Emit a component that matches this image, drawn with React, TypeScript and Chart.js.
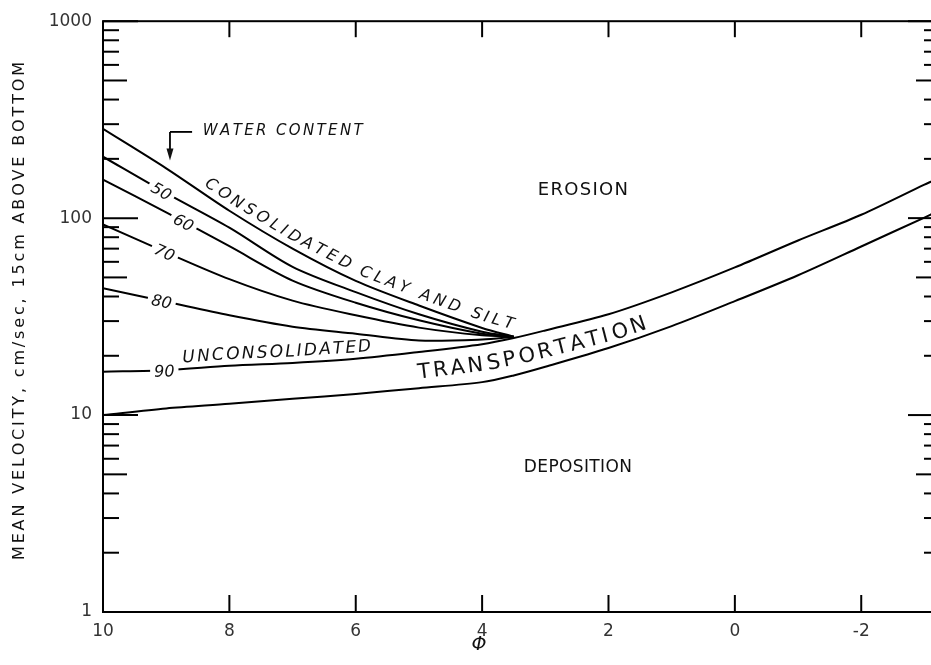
import React, { useEffect, useRef } from "react";
import { Chart, registerables } from "chart.js";

Chart.register(...registerables);

// ---- data (phi units, velocity cm/sec) ----
const PHI_CONSOL = [10, 9, 8, 7, 6, 5, 4, 3.5];
const V_TOP = [284, 179, 109, 70, 48, 36, 27.7, 25];
const V_WC50 = [205, 134, 89.5, 56.6, 42.1, 32.5, 26.5, 25];
const V_WC60 = [157, 107, 72, 48.2, 37.2, 30.3, 25.9, 25];
const V_WC70 = [93, 67, 49, 38.1, 32.1, 27.8, 25.4, 25];
const V_WC80 = [44, 37.6, 32.1, 28.1, 25.9, 23.9, 24.2, 25];

const PHI_TRANS = [10, 9, 8, 7, 6, 5, 4, 3.5, 3, 2, 1, 0, -1, -2, -3, -3.12];
const V_UPPER = [16.6, 16.9, 17.8, 18.4, 19.3, 20.9, 22.9, 24.6, 26.9, 32.5, 42, 56.2, 77, 104, 148, 154];
const V_LOWER = [10, 10.8, 11.4, 12.1, 12.8, 13.7, 14.7, 15.9, 17.6, 21.9, 28.3, 37.9, 51.3, 71.8, 100.7, 105];

const X_TICKS = [10, 8, 6, 4, 2, 0, -2];
const Y_MAJOR = [1, 10, 100, 1000];
const Y_MANTISSA = [2, 3, 4, 5, 6, 7, 8, 9];

const WC_LABELS = ["50", "60", "70", "80", "90"];
const WC_DATASET = [1, 2, 3, 4, 5];
const WC_LABEL_PHI = [9.07, 8.72, 9.02, 9.07, 9.03];

const TEXT = "#111";
const FAM = '"DejaVu Sans"';

type P = { x: number; y: number };
type Path = { pts: P[]; s: number[] };

function buildPath(pts: P[]): Path {
  const s = [0];
  for (let i = 1; i < pts.length; i++) {
    s.push(s[i - 1] + Math.hypot(pts[i].x - pts[i - 1].x, pts[i].y - pts[i - 1].y));
  }
  return { pts, s };
}

function at(path: Path, d: number) {
  const { pts, s } = path;
  let i = 0;
  while (i < pts.length - 2 && s[i + 1] < d) i++;
  const seg = s[i + 1] - s[i] || 1;
  const t = (d - s[i]) / seg;
  const a = pts[i], b = pts[i + 1];
  return { x: a.x + (b.x - a.x) * t, y: a.y + (b.y - a.y) * t, ang: Math.atan2(b.y - a.y, b.x - a.x) };
}

function sAtX(path: Path, x: number) {
  const { pts, s } = path;
  for (let i = 0; i < pts.length - 1; i++) {
    const a = pts[i], b = pts[i + 1];
    if ((x >= a.x && x <= b.x) || (x <= a.x && x >= b.x)) {
      const t = (x - a.x) / ((b.x - a.x) || 1);
      return s[i] + t * (s[i + 1] - s[i]);
    }
  }
  return x < pts[0].x ? 0 : s[s.length - 1];
}

function textAlong(ctx: CanvasRenderingContext2D, path: Path, text: string, s0: number, s1: number, offset: number, font: string) {
  ctx.font = font;
  const chars = [...text];
  const widths = chars.map((c) => ctx.measureText(c).width);
  const total = widths.reduce((a, b) => a + b, 0);
  const gap = chars.length > 1 ? (s1 - s0 - total) / (chars.length - 1) : 0;
  let d = s0;
  ctx.textAlign = "center";
  ctx.textBaseline = "middle";
  chars.forEach((c, i) => {
    const w = widths[i];
    const p = at(path, d + w / 2);
    ctx.save();
    ctx.translate(p.x, p.y);
    ctx.rotate(p.ang);
    ctx.fillText(c, 0, offset);
    ctx.restore();
    d += w + gap;
  });
}

function labelOnPath(ctx: CanvasRenderingContext2D, path: Path, text: string, xc: number, font: string, dy: number) {
  ctx.font = font;
  const w = ctx.measureText(text).width;
  const p = at(path, sAtX(path, xc));
  ctx.save();
  ctx.translate(p.x, p.y);
  ctx.rotate(p.ang);
  ctx.fillStyle = "#fff";
  ctx.fillRect(-w / 2 - 4, -5, w + 8, 10);
  ctx.fillStyle = TEXT;
  ctx.textAlign = "center";
  ctx.textBaseline = "middle";
  ctx.fillText(text, 0, dy);
  ctx.restore();
}

const overlay = {
  id: "overlay",
  afterDatasetsDraw(chart: any) {
    const ctx: CanvasRenderingContext2D = chart.ctx;
    const { left, right, top, bottom } = chart.chartArea;
    const xs = chart.scales.x;
    const ys = chart.scales.y;
    const X = (v: number) => xs.getPixelForValue(v);
    const Y = (v: number) => ys.getPixelForValue(v);
    ctx.save();
    ctx.strokeStyle = "#000";
    ctx.lineWidth = 2;
    ctx.strokeRect(left, top, right - left, bottom - top);
    const line = (x1: number, y1: number, x2: number, y2: number) => {
      ctx.beginPath();
      ctx.moveTo(x1, y1);
      ctx.lineTo(x2, y2);
      ctx.stroke();
    };
    for (const t of ys.ticks) {
      const v = t.value;
      const py = Y(v);
      const m = v / Math.pow(10, Math.floor(Math.log10(v) + 1e-9));
      const major = Math.abs(m - 1) < 1e-6;
      const five = Math.abs(m - 5) < 1e-6;
      line(left, py, left + (major ? 35 : five ? 24 : 16), py);
      line(right, py, right - (major ? 24 : five ? 16 : 8), py);
    }
    for (const v of X_TICKS) {
      const px = X(v);
      line(px, top, px, top + 16);
      line(px, bottom, px, bottom - 17);
    }

    const pathOf = (i: number) =>
      buildPath(chart.getDatasetMeta(i).data.map((p: any) => ({ x: p.x, y: p.y })));

    ctx.fillStyle = TEXT;
    // water-content numbers on the curves
    WC_LABELS.forEach((lab, k) => {
      labelOnPath(ctx, pathOf(WC_DATASET[k]), lab, X(WC_LABEL_PHI[k]), `italic 16px ${FAM}`, 2);
    });

    // curved labels
    const top0 = pathOf(0);
    textAlong(ctx, top0, "CONSOLIDATED CLAY AND SILT", sAtX(top0, X(8.46)), sAtX(top0, X(3.55)), -11, `italic 16px ${FAM}`);
    const up = pathOf(5);
    textAlong(ctx, up, "UNCONSOLIDATED", sAtX(up, X(8.73)), sAtX(up, X(5.74)), -11, `italic 17px ${FAM}`);
    textAlong(ctx, up, "TRANSPORTATION", sAtX(up, X(5.06)), sAtX(up, X(1.52)), 21, `21px ${FAM}`);

    // straight labels
    const straight = (text: string, p0: number, p1: number, v: number, font: string) => {
      const y = Y(v);
      const path = buildPath([{ x: X(p0), y }, { x: X(p1), y }]);
      textAlong(ctx, path, text, 0, path.s[1], 0, font);
    };
    straight("WATER CONTENT", 8.42, 5.89, 277, `italic 15px ${FAM}`);
    straight("EROSION", 3.12, 1.69, 138, `18px ${FAM}`);
    straight("DEPOSITION", 3.34, 1.63, 5.41, `17px ${FAM}`);

    // bracket arrow for water content
    ctx.lineWidth = 1.8;
    const cx = X(8.94), cy = Y(274);
    line(X(8.59), cy, cx, cy);
    const tipY = Y(196);
    line(cx, cy, cx, tipY - 8);
    ctx.beginPath();
    ctx.moveTo(cx - 3.5, tipY - 12);
    ctx.lineTo(cx + 3.5, tipY - 12);
    ctx.lineTo(cx, tipY);
    ctx.closePath();
    ctx.fill();

    // axis titles
    const yt = buildPath([{ x: 20, y: 560 }, { x: 20, y: 62 }]);
    textAlong(ctx, yt, "MEAN VELOCITY, cm/sec, 15cm ABOVE BOTTOM", 0, yt.s[1], 0, `16px ${FAM}`);
    ctx.font = `italic 19px ${FAM}`;
    ctx.textAlign = "center";
    ctx.textBaseline = "middle";
    ctx.fillText("Φ", X(4.05), 645);
    ctx.restore();
  },
};

const mk = (phi: number[], v: number[]) => phi.map((p, i) => ({ x: p, y: v[i] }));

export default function App() {
  const ref = useRef<HTMLCanvasElement>(null);
  useEffect(() => {
    document.body.style.margin = "0";
    const yTicks: number[] = [];
    Y_MAJOR.forEach((d, i) => {
      yTicks.push(d);
      if (i < Y_MAJOR.length - 1) Y_MANTISSA.forEach((m) => yTicks.push(m * d));
    });
    const ds = (data: any[]) => ({
      data,
      borderColor: "#000",
      borderWidth: 2,
      pointRadius: 0,
      tension: 0.3,
      fill: false,
    });
    const chart = new Chart(ref.current as HTMLCanvasElement, {
      type: "line",
      data: {
        datasets: [
          ds(mk(PHI_CONSOL, V_TOP)),
          ds(mk(PHI_CONSOL, V_WC50)),
          ds(mk(PHI_CONSOL, V_WC60)),
          ds(mk(PHI_CONSOL, V_WC70)),
          ds(mk(PHI_CONSOL, V_WC80)),
          ds(mk(PHI_TRANS, V_UPPER)),
          ds(mk(PHI_TRANS, V_LOWER)),
        ],
      },
      options: {
        responsive: false,
        animation: false,
        devicePixelRatio: 1,
        layout: { padding: { top: 19, right: 2, left: 0, bottom: 0 } },
        plugins: { legend: { display: false }, tooltip: { enabled: false } },
        scales: {
          x: {
            type: "linear",
            reverse: true,
            min: -3.12,
            max: 10,
            afterBuildTicks: (s: any) => {
              s.ticks = X_TICKS.map((v) => ({ value: v }));
            },
            afterFit: (s: any) => {
              s.height = 53;
            },
            grid: { display: false, drawTicks: false },
            border: { display: false },
            ticks: {
              autoSkip: false,
              maxRotation: 0,
              padding: 9,
              color: "#333",
              font: { family: "DejaVu Sans", size: 17 },
              callback: (v: any) => String(v),
            },
          },
          y: {
            type: "logarithmic",
            min: 1,
            max: 1000,
            afterBuildTicks: (s: any) => {
              s.ticks = yTicks.map((v) => ({ value: v }));
            },
            afterFit: (s: any) => {
              s.width = 103;
            },
            grid: { display: false, drawTicks: false },
            border: { display: false },
            ticks: {
              autoSkip: false,
              padding: 11,
              color: "#333",
              font: { family: "DejaVu Sans", size: 17 },
              callback: (v: any) => (Y_MAJOR.includes(Number(v)) ? String(v) : ""),
            },
          },
        },
      } as any,
      plugins: [overlay],
    });
    return () => chart.destroy();
  }, []);
  return (
    <div style={{ position: "fixed", left: 0, top: 0, width: 931, height: 665, overflow: "hidden", background: "#fff" }}>
      <canvas ref={ref} width={934} height={665} style={{ display: "block", width: 934, height: 665 }} />
    </div>
  );
}
